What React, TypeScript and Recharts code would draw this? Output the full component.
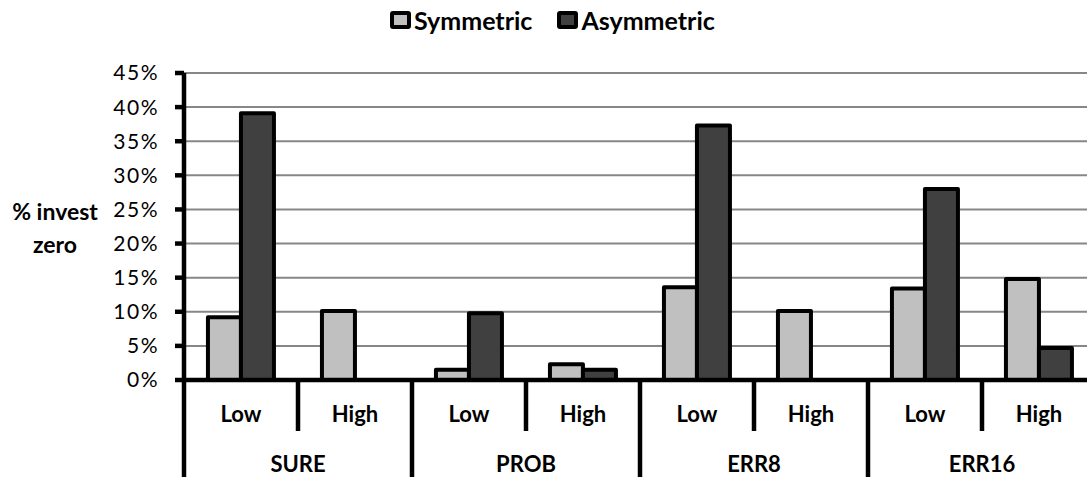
import React from 'react';
import { BarChart, Bar, XAxis, YAxis, CartesianGrid } from 'recharts';

// Source values (percent of subjects investing zero)
const treatments = ['SURE', 'PROB', 'ERR8', 'ERR16'];
const levels = ['Low', 'High'];
const seriesNames = ['Symmetric', 'Asymmetric'];
const seriesColors = ['#c0c0c0', '#404040'];
const symmetric = [9.2, 10.1, 1.5, 2.3, 13.6, 10.1, 13.4, 14.8];
const asymmetric = [39.1, 0, 9.8, 1.5, 37.3, 0, 28.0, 4.7];
const yTicks = [0, 5, 10, 15, 20, 25, 30, 35, 40, 45];
const yLabelLines = ['% invest', 'zero'];

const data = treatments.flatMap((group, gi) =>
  levels.map((level, li) => ({
    key: `${group}-${level}`,
    group,
    level,
    sym: symmetric[gi * levels.length + li],
    asym: asymmetric[gi * levels.length + li],
  }))
);

// Layout: the plot runs slightly past the visible frame on the right
const VIEW_W = 1087;
const W = 1096;
const H = 477;
const TOP = 73;
const Y_AXIS_W = 184;
const X_AXIS_H = 97;
const BAND = (W - Y_AXIS_W) / data.length;
const FONT = 'Lato, "Open Sans", sans-serif';

const XTick = (props: any) => {
  const { x, y, index } = props;
  const row = data[index];
  if (!row) return null;
  const half = BAND / 2;
  const first = index % levels.length === 0;
  return (
    <g>
      <line
        x1={x - half}
        x2={x - half}
        y1={y}
        y2={first ? y + X_AXIS_H : y + 51}
        stroke="#000"
        strokeWidth={4.5}
      />
      <text x={x} y={y + 42} textAnchor="middle" fontFamily={FONT} fontWeight={700} fontSize={22} fill="#000">
        {row.level}
      </text>
      {first && (
        <text x={x + half} y={y + 92} textAnchor="middle" fontFamily={FONT} fontWeight={700} fontSize={22} fill="#000">
          {row.group}
        </text>
      )}
    </g>
  );
};

const YLabel = (props: any) => {
  const vb = props.viewBox || { x: 0, y: TOP, width: Y_AXIS_W, height: 307 };
  const cx = vb.x + 55;
  const cy = vb.y + vb.height / 2 - 7;
  return (
    <text textAnchor="middle" fontFamily={FONT} fontWeight={700} fontSize={23} fill="#000">
      {yLabelLines.map((t, i) => (
        <tspan key={t} x={cx} y={cy + i * 33}>
          {t}
        </tspan>
      ))}
    </text>
  );
};

const LegendBox = () => (
  <div
    style={{
      position: 'absolute',
      left: 390,
      top: 5,
      display: 'flex',
      alignItems: 'center',
      gap: 25,
      fontFamily: FONT,
      fontWeight: 700,
      fontSize: 25,
      color: '#000',
    }}
  >
    {seriesNames.map((name, i) => (
      <div key={name} style={{ display: 'flex', alignItems: 'center' }}>
        <div
          style={{
            width: 13,
            height: 10,
            border: '4px solid #000',
            borderRadius: 3,
            background: seriesColors[i],
            marginRight: 3,
          }}
        />
        <span>{name}</span>
      </div>
    ))}
  </div>
);

export default function App() {
  return (
    <div
      style={{
        position: 'absolute',
        left: 0,
        top: 0,
        width: VIEW_W,
        height: H,
        overflow: 'hidden',
        background: '#fff',
      }}
    >
      <BarChart
        width={W}
        height={H}
        data={data}
        margin={{ top: TOP, right: 0, bottom: 0, left: 0 }}
        barCategoryGap="21%"
        barGap={0}
      >
        <CartesianGrid vertical={false} stroke="#878787" strokeWidth={2} />
        <XAxis
          dataKey="key"
          height={X_AXIS_H}
          interval={0}
          tickLine={false}
          tickSize={0}
          tickMargin={0}
          axisLine={{ stroke: '#000', strokeWidth: 4.5 }}
          tick={<XTick />}
        />
        <YAxis
          width={Y_AXIS_W}
          domain={[0, 45]}
          ticks={yTicks}
          interval={0}
          tickFormatter={(v: number) => `${v}%`}
          axisLine={{ stroke: '#000', strokeWidth: 4.5 }}
          tickLine={{ stroke: '#000', strokeWidth: 4.5 }}
          tickSize={9}
          tickMargin={16}
          tick={{ fill: '#000', fontFamily: FONT, fontSize: 21, letterSpacing: 1.5 }}
          label={<YLabel />}
        />
        <Bar dataKey="sym" name={seriesNames[0]} fill={seriesColors[0]} stroke="#000" strokeWidth={4} strokeLinejoin="round" isAnimationActive={false} />
        <Bar dataKey="asym" name={seriesNames[1]} fill={seriesColors[1]} stroke="#000" strokeWidth={4} strokeLinejoin="round" isAnimationActive={false} />
      </BarChart>
      <LegendBox />
    </div>
  );
}
